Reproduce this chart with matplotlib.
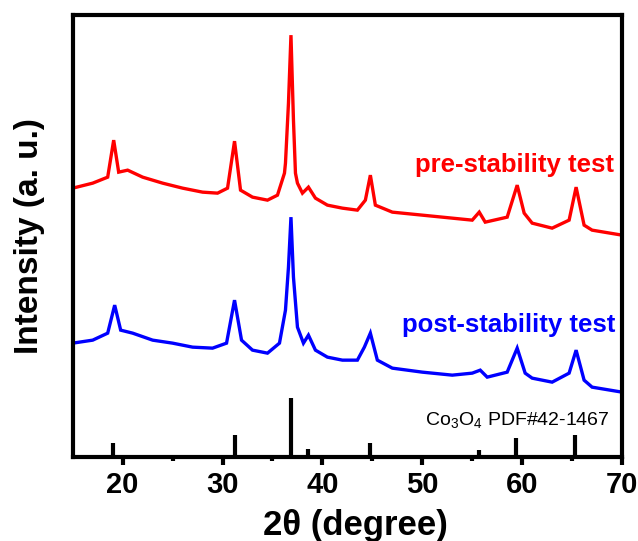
import matplotlib
matplotlib.use("Agg")
import matplotlib.pyplot as plt

plt.rcParams['font.family'] = ['Liberation Sans', 'DejaVu Sans']
plt.rcParams['mathtext.fontset'] = 'custom'
plt.rcParams['mathtext.rm'] = 'Liberation Sans'
plt.rcParams['mathtext.it'] = 'Liberation Sans:italic'

# pre-stability test (red), intensity in arbitrary units
pre_x = [15, 17, 18.5, 19.1, 19.6, 20.5, 22, 24, 26, 28, 29.5, 30.5, 31.2, 31.8,
         33, 34.5, 35.5, 36.2, 36.3, 36.6, 36.85, 37.1, 37.3, 37.5, 38, 38.6, 39.3,
         40.5, 42, 43.5, 44.3, 44.8, 45.3, 47, 50, 53, 55, 55.7, 56.3, 58.5, 59.5,
         60.2, 61, 63, 64.7, 65.4, 66.2, 67, 70]
pre_y = [269, 274, 280, 317, 285, 287, 280, 274, 269, 265, 264, 269, 316, 267,
         260, 257, 262, 284, 294, 354, 422, 337, 284, 274, 264, 270, 259,
         252, 249, 247, 257, 282, 252, 245, 242, 239, 237, 245, 235, 240, 272,
         244, 234, 229, 237, 270, 232, 227, 222]

# post-stability test (blue)
post_x = [15, 17, 18.5, 19.2, 19.8, 21, 23, 25, 27, 29, 30.4, 31.2, 31.9, 33,
          34.5, 35.7, 36.3, 36.6, 36.85, 37.1, 37.5, 38.1, 38.6, 39.3, 40.5, 42,
          43.5, 44.2, 44.8, 45.5, 47, 50, 53, 55, 55.8, 56.5, 58.5, 59.5, 60.3,
          61, 63, 64.7, 65.4, 66.2, 67, 70]
post_y = [114, 117, 124, 152, 127, 124, 117, 114, 110, 109, 114, 157, 117, 107,
          104, 114, 147, 190, 240, 180, 130, 114, 122, 107, 100, 97,
          97, 110, 124, 97, 89, 85, 82, 84, 87, 80, 85, 109, 84,
          79, 75, 84, 107, 77, 70, 65]

# Co3O4 reference lines, PDF#42-1467
ref_pos = [19.0, 31.27, 36.85, 38.54, 44.81, 55.66, 59.36, 65.24]
ref_int = [14, 22, 59, 8, 14, 7, 19, 22]

fig = plt.figure(figsize=(6.38, 5.41), dpi=100)
ax = fig.add_axes([0.114, 0.155, 0.861, 0.817])

ax.plot(pre_x, pre_y, color='#ff0000', lw=2.4, solid_joinstyle='miter')
ax.plot(post_x, post_y, color='#0000ff', lw=2.4, solid_joinstyle='miter')
ax.vlines(ref_pos, 0, ref_int, color='black', lw=3)

ax.text(0.985, 0.661, 'pre-stability test', color='#ff0000', fontsize=18.5,
        fontweight='bold', ha='right', va='center', transform=ax.transAxes)
ax.text(0.988, 0.300, 'post-stability test', color='#0000ff', fontsize=18.5,
        fontweight='bold', ha='right', va='center', transform=ax.transAxes)
ax.text(0.978, 0.085, r'Co$_3$O$_4$ PDF#42-1467', color='black', fontsize=14,
        ha='right', va='center', transform=ax.transAxes)

ax.set_xlim(15, 70)
ax.set_ylim(0, 442)
ax.set_xticks([20, 30, 40, 50, 60, 70])
ax.set_xticks([25, 35, 45, 55, 65], minor=True)
ax.set_yticks([])
ax.tick_params(axis='x', which='major', direction='out', length=6, width=3,
               labelsize=21, pad=4)
ax.tick_params(axis='x', which='minor', direction='out', length=3, width=3)
for lab in ax.get_xticklabels():
    lab.set_fontweight('bold')
for sp in ax.spines.values():
    sp.set_linewidth(3)

ax.set_xlabel('2θ (degree)', fontsize=25, fontweight='bold')
ax.xaxis.set_label_coords(0.515, -0.118, transform=ax.transAxes)
ax.xaxis.label.set_va('top')
ax.set_ylabel('Intensity (a. u.)', fontsize=24, fontweight='bold')
ax.yaxis.set_label_coords(-0.05, 0.5)

fig.savefig('out.png', dpi=100)
